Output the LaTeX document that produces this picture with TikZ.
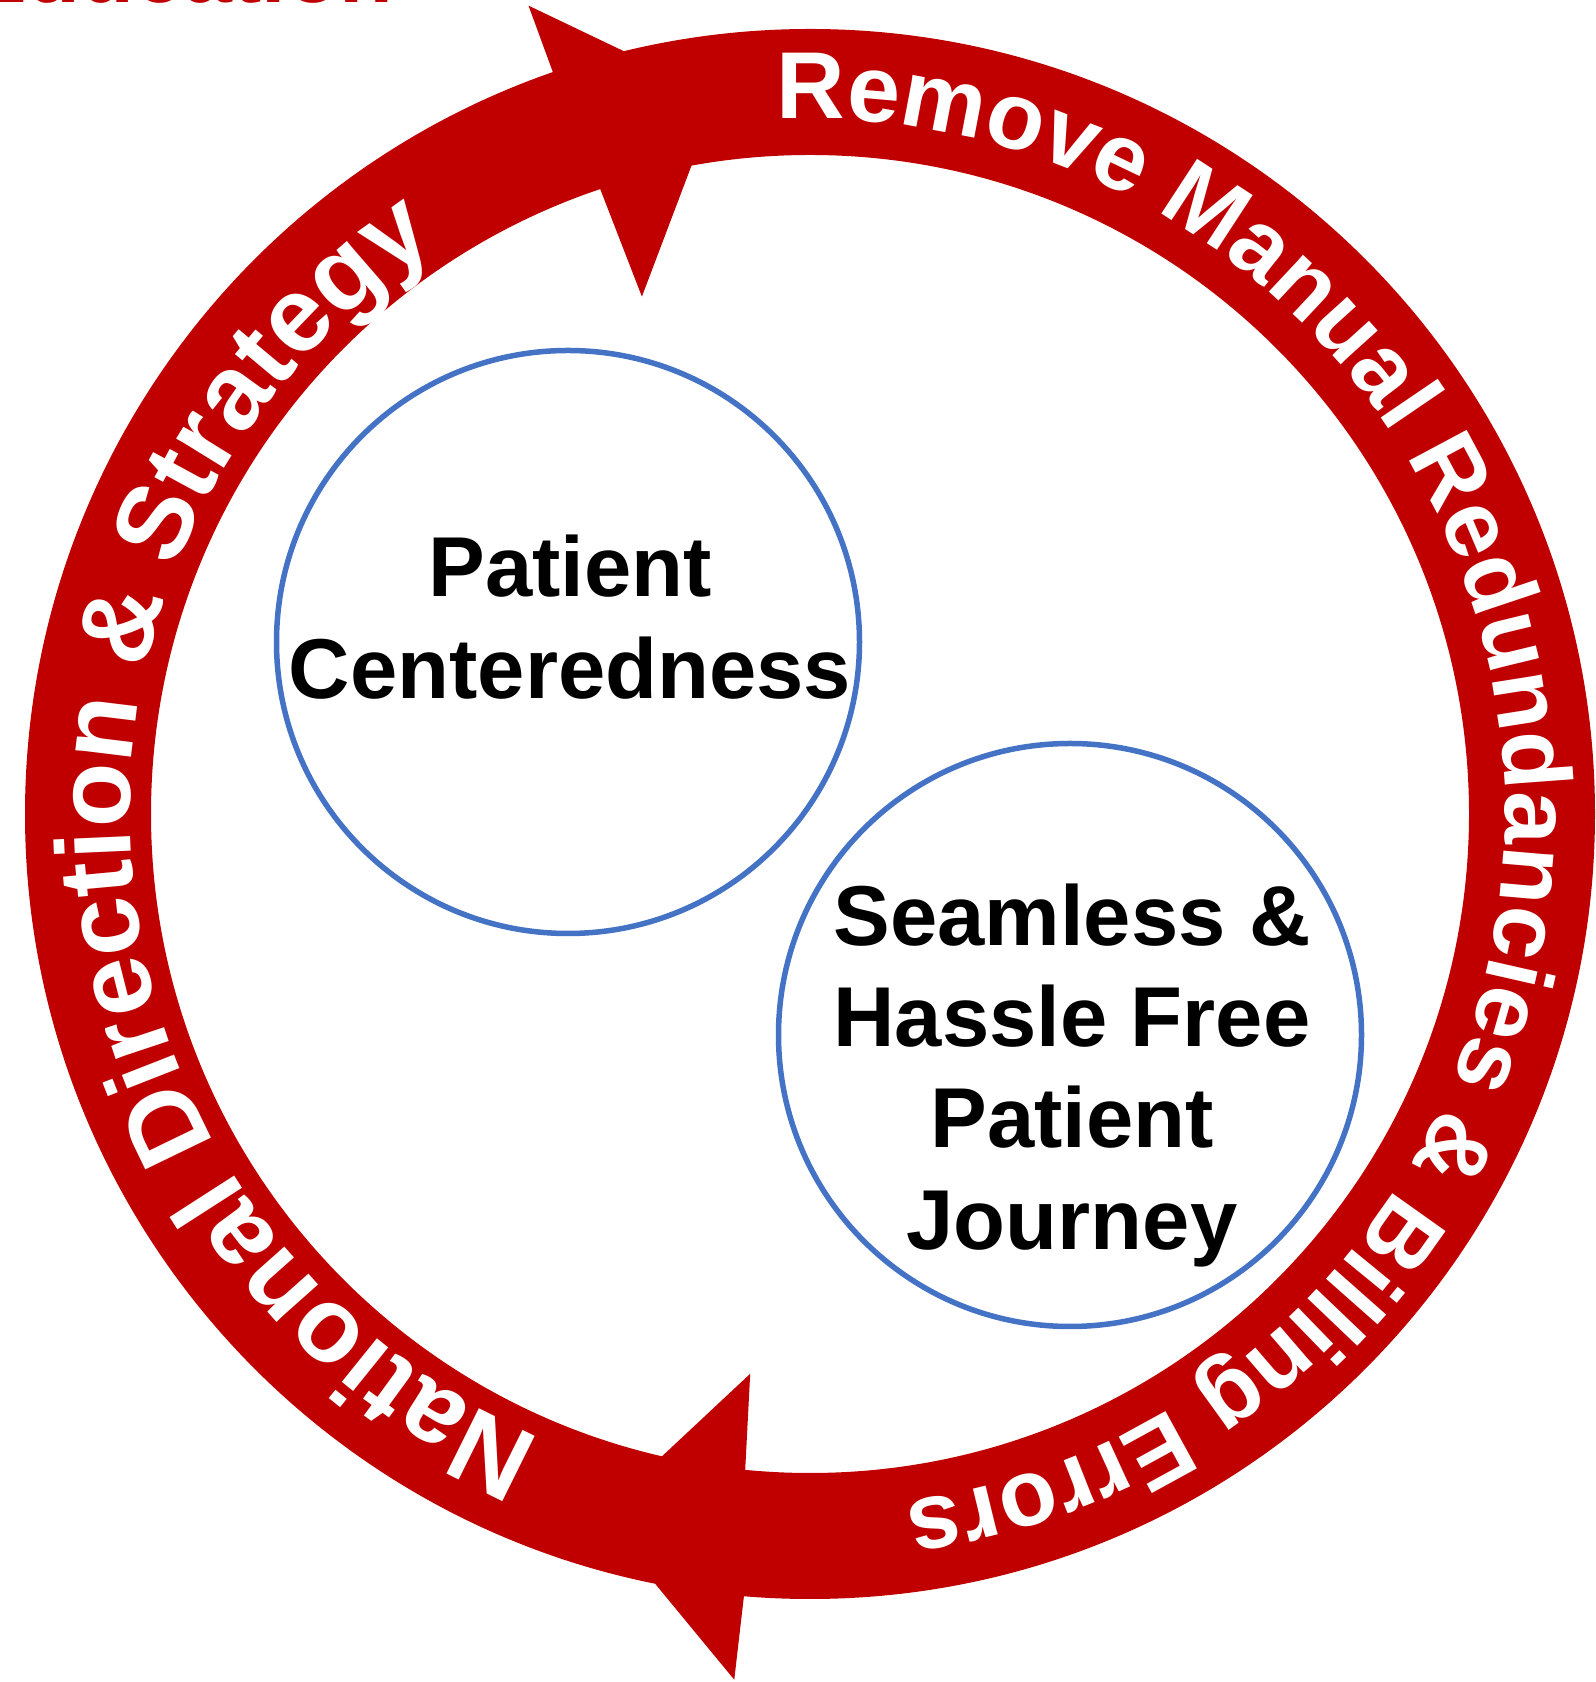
\documentclass[tikz,border=0pt]{standalone}
\usepackage{fontspec}
\setmainfont{Liberation Sans}
\usetikzlibrary{decorations.text}
\definecolor{ringred}{RGB}{192,0,0}
\definecolor{circblue}{RGB}{68,114,196}
\tikzset{
  bluecirc/.style={circle, draw=circblue, line width=5.5pt, minimum size=583pt, inner sep=0pt, fill=white},
  centertext/.style={anchor=base, inner sep=0pt, font=\fontsize{85}{102}\selectfont\bfseries, text=black},
  ringtextL/.style={decorate, decoration={text along path, text align=center, text color=white,
     text={|\fontsize{106}{120}\selectfont\bfseries|National Direction {\&} Strategy}}},
  ringtextR/.style={decorate, decoration={text along path, text align=center, text color=white,
     text={|\fontsize{95}{110}\selectfont\bfseries|Remove Manual Redundancies {\&} Billing Errors}}},
  barb/.style={fill=ringred}
}
\begin{document}
\begin{tikzpicture}[x=1pt,y=1pt]
\useasboundingbox (0,0) rectangle (1596,1682);
\clip (0,0) rectangle (1596,1682);
\fill[white] (0,0) rectangle (1596,1682);
% cut-off red title at the top
\node[anchor=base west, inner sep=0pt, text=ringred, font=\fontsize{88}{100}\selectfont\bfseries] (title) at (-32,1679) {Education};
\coordinate (O) at (810,868);
% ring
\fill[ringred, even odd rule] (O) circle[radius=785] (O) circle[radius=659];
% arrow heads (barbs)
\begin{scope}[shift={(O)}]
  \fill[barb] (109.1:772) -- (109.2:856) -- (102.5:772) -- cycle;
  \fill[barb] (108.6:670) -- (108.0:544) -- (99.8:670) -- cycle;
  \fill[barb] (265.2:772) -- (265.0:869) -- (257.4:772) -- cycle;
  \fill[barb] (264.4:670) -- (263.9:563) -- (256.4:670) -- cycle;
\end{scope}
% ring texts
\path[ringtextL] ([shift={(O)}]250:680) arc[start angle=250, end angle=120, radius=680];
\path[ringtextR] ([shift={(O)}]100:695) arc[start angle=100, end angle=-89.4, radius=695];
% circles
\node[bluecirc] (c1) at (568,1040) {};
\node[bluecirc] (c2) at (1070,647) {};
\node[centertext] (t1a) at (570,1085) {Patient};
\node[centertext] (t1b) at (570,983) {Centeredness};
\node[centertext] (t2a) at (1072,736) {Seamless \&};
\node[centertext] (t2b) at (1072,635) {Hassle Free};
\node[centertext] (t2c) at (1072,534) {Patient};
\node[centertext] (t2d) at (1072,432) {Journey};
\end{tikzpicture}
\end{document}
